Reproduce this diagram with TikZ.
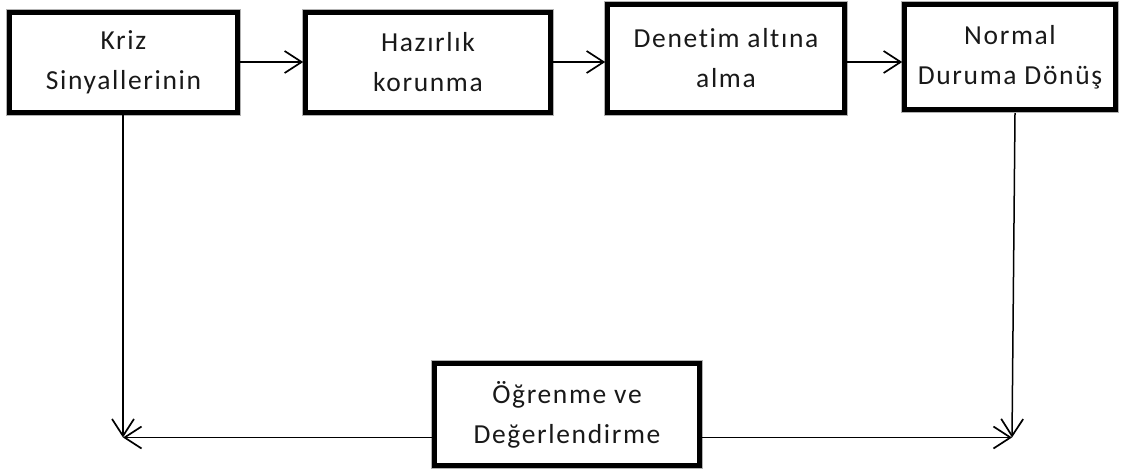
\documentclass[tikz,border=0pt]{standalone}
\usepackage{fontspec}
\setmainfont{Carlito}[LetterSpace=6,Ligatures=NoCommon]
\usetikzlibrary{arrows.meta,calc}
\tikzset{
  stagebox/.style={draw=black, line width=4.6pt, fill=white, align=center,
    inner sep=0pt, text=black!90,
    font=\fontsize{27.5}{40}\selectfont,
    preaction={draw=black!30, line width=6.6pt}},
  flow/.style={line width=1.5pt, -{Straight Barb[length=17pt,width=22pt,line width=1.7pt]}}
}
\begin{document}
\begin{tikzpicture}[x=1pt,y=-1pt]
\useasboundingbox (0,0) rectangle (1123,475);
\node[stagebox, minimum width=228pt, minimum height=100pt] (b1) at (123.5,62.5) {Kriz\\Sinyallerinin};
\node[stagebox, minimum width=245pt, minimum height=100pt] (b2) at (428,62.5) {Hazırlık\\korunma};
\node[stagebox, minimum width=237pt, minimum height=108pt] (b3) at (726,58.5) {Denetim altına\\alma};
\node[stagebox, minimum width=211pt, minimum height=105pt] (b4) at (1010,57) {Normal\\Duruma Dönüş};
\node[stagebox, minimum width=265pt, minimum height=102pt] (b5) at (567,414.5) {Öğrenme ve\\Değerlendirme};
\coordinate (L) at (123,437.5);
\coordinate (R) at (1012,437.5);
\coordinate (R0) at (1015,113);
\draw[flow] (b1.east |- 0,62) -- (b2.west |- 0,62);
\draw[flow] (b2.east |- 0,62) -- (b3.west |- 0,62);
\draw[flow] (b3.east |- 0,62) -- (b4.west |- 0,62);
\draw[flow] (b1.south -| L) -- (L);
\draw[flow] (b5.west |- L) -- (L);
\draw[flow] (R0) -- (R);
\draw[flow] (b5.east |- R) -- (R);
\end{tikzpicture}
\end{document}
